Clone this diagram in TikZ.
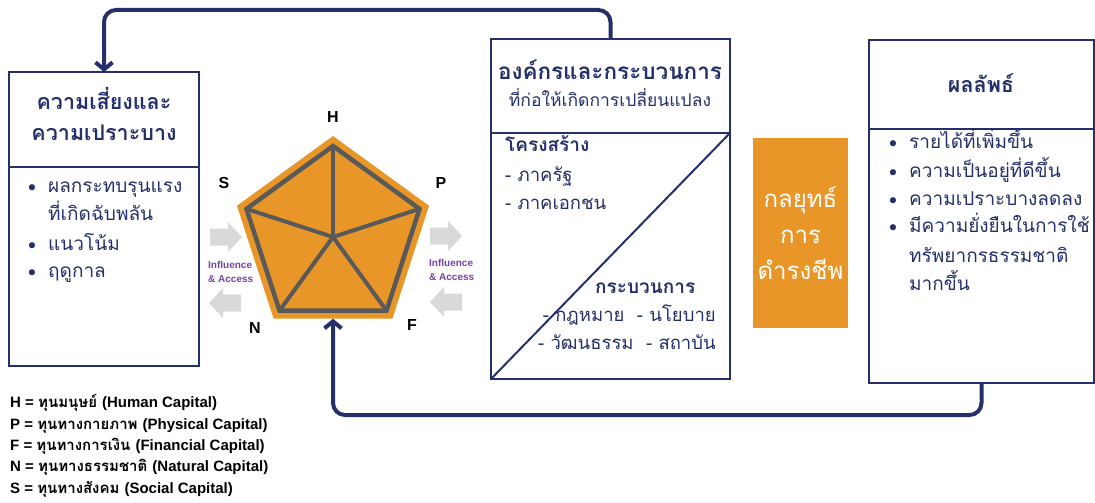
\documentclass[tikz,border=0pt]{standalone}
\usepackage{fontspec}
\usetikzlibrary{arrows.meta,shapes.geometric}
\newfontfamily\thai[Script=Thai]{Loma}
\newfontfamily\lat{Liberation Sans}
\newfontfamily\dv{DejaVu Sans}
\definecolor{navy}{HTML}{25306B}
\definecolor{orng}{HTML}{E99629}
\definecolor{pgray}{HTML}{595959}
\definecolor{lgray}{HTML}{D9D9D9}
\definecolor{purp}{HTML}{7F3FA8}
\newcommand\blockarr[3]{\fill[lgray, shift={(#1,#2)}, xscale=#3] (-16,-8.5) -- (2,-8.5) -- (2,-15) -- (16,0) -- (2,15) -- (2,8.5) -- (-16,8.5) -- cycle;}
\tikzset{
  box/.style={draw=navy, line width=2pt, fill=white, inner sep=0pt, outer sep=0pt},
  divline/.style={draw=navy, line width=2pt},
  flow/.style={draw=navy, line width=4pt, rounded corners=12pt, -{Straight Barb[length=7pt,width=17pt]}},
  ttl/.style={text=navy, font=\thai\bfseries\fontsize{21.5}{25}\selectfont, anchor=mid},
  item/.style={text=navy, font=\thai\fontsize{19}{23}\selectfont, anchor=mid west, inner sep=0pt},
  mitem/.style={text=navy, font=\thai\fontsize{18.5}{22}\selectfont, anchor=mid west, inner sep=0pt},
  bitem/.style={text=navy, font=\thai\bfseries\fontsize{19}{23}\selectfont, anchor=mid west, inner sep=0pt},
  bdot/.style={text=navy, font=\dv\fontsize{21}{24}\selectfont, anchor=center, inner sep=0pt},
  caplab/.style={font=\lat\bfseries\fontsize{16}{19}\selectfont, anchor=mid},
  infl/.style={text=purp, font=\lat\bfseries\fontsize{10}{13.5}\selectfont, align=left, anchor=west, inner sep=0pt},
  leg/.style={font=\bfseries\fontsize{15}{18}\selectfont, anchor=mid west, inner sep=0pt},
}
\begin{document}
\begin{tikzpicture}[x=1pt,y=-1pt]
\useasboundingbox (0,0) rectangle (1095,503);
\fill[white] (0,0) rectangle (1095,503);

% boxes
\node[box, minimum width=190pt, minimum height=294pt] (risk) at (104,219) {};
\draw[divline] (risk.west |- 0,167) -- (risk.east |- 0,167);
\node[box, minimum width=239pt, minimum height=340pt] (org) at (610.5,209) {};
\draw[divline] (org.west |- 0,133) -- (org.east |- 0,133);
\draw[divline] (org.south west) -- (org.east |- 0,133);
\node[box, minimum width=225pt, minimum height=343pt] (out) at (981.5,211.5) {};
\draw[divline] (out.west |- 0,129) -- (out.east |- 0,129);
\node[fill=orng, inner sep=0pt, minimum width=95pt, minimum height=190pt, text=white, align=center,
      font=\thai\fontsize{24}{36}\selectfont] (strat) at (800.5,233) {กลยุทธ์\\การ\\ดำรงชีพ};

% pentagon
\node[regular polygon, regular polygon sides=5, minimum size=202pt, fill=orng, inner sep=0pt, outer sep=0pt] (pento) at (333,237) {};
\node[regular polygon, regular polygon sides=5, minimum size=182pt, draw=pgray, line width=4.5pt, inner sep=0pt, outer sep=0pt] (pent) at (333,237) {};
\foreach \i in {1,...,5} \draw[pgray, line width=4pt] (pent.center) -- (pent.corner \i);
\node[caplab] (lH) at (333,120) {H};
\node[caplab] (lS) at (224,186) {S};
\node[caplab] (lP) at (441,186) {P};
\node[caplab] (lN) at (255,331) {N};
\node[caplab] (lF) at (412,328) {F};

% block arrows
\blockarr{226}{237}{1}
\blockarr{225}{303}{-1}
\blockarr{446}{236}{1}
\blockarr{446}{302}{-1}
\node[infl] (inL) at (208,272) {Influence\\\& Access};
\node[infl] (inR) at (429,270) {Influence\\\& Access};

% flows
\draw[flow] (org.north) -- ++(0,-29) -| (risk.north);
\draw[flow] (out.south) -- ++(0,32) -| (pento.south);

% left box text
\node[ttl] (rt1) at (104,107) {ความเสี่ยงและ};
\node[ttl] (rt2) at (104,138) {ความเปราะบาง};
\node[bdot] (rb1) at (32,190) {•};
\node[item] (ri1) at (48,190) {ผลกระทบรุนแรง};
\node[item] (ri1b) at (48,218) {ที่เกิดฉับพลัน};
\node[bdot] (rb2) at (32,248) {•};
\node[item] (ri2) at (48,248) {แนวโน้ม};
\node[bdot] (rb3) at (32,275) {•};
\node[item] (ri3) at (48,275) {ฤดูกาล};

% middle box text
\node[ttl, font=\thai\bfseries\fontsize{22.5}{26}\selectfont] (ot1) at (610,77) {องค์กรและกระบวนการ};
\node[text=navy, font=\thai\fontsize{17.5}{20}\selectfont, anchor=mid] (ot2) at (610,104) {ที่ก่อให้เกิดการเปลี่ยนแปลง};
\node[bitem] (os) at (505,149) {โครงสร้าง};
\node[mitem] (os1) at (505,179) {- ภาครัฐ};
\node[mitem] (os2) at (505,207) {- ภาคเอกชน};
\node[bitem] (op) at (595,291) {กระบวนการ};
\node[mitem, anchor=mid east] (op1) at (716,319) {- กฎหมาย\ \ - นโยบาย};
\node[mitem, anchor=mid east] (op2) at (716,347) {- วัฒนธรรม\ \ - สถาบัน};

% right box text
\node[ttl] (ut) at (981,90) {ผลลัพธ์};
\node[bdot] (ub1) at (893,146) {•};
\node[item] (ui1) at (909,146) {รายได้ที่เพิ่มขึ้น};
\node[bdot] (ub2) at (893,175) {•};
\node[item] (ui2) at (909,175) {ความเป็นอยู่ที่ดีขึ้น};
\node[bdot] (ub3) at (893,203) {•};
\node[item] (ui3) at (909,203) {ความเปราะบางลดลง};
\node[bdot] (ub4) at (893,230) {•};
\node[item] (ui4) at (909,230) {มีความยั่งยืนในการใช้};
\node[item] (ui4b) at (909,260) {ทรัพยากรธรรมชาติ};
\node[item] (ui4c) at (909,288) {มากขึ้น};

% legend
\node[leg] (g1) at (10,405) {\lat H = \thai ทุนมนุษย์ \lat(Human Capital)};
\node[leg] (g2) at (10,427) {\lat P = \thai ทุนทางกายภาพ \lat(Physical Capital)};
\node[leg] (g3) at (10,448) {\lat F = \thai ทุนทางการเงิน \lat(Financial Capital)};
\node[leg] (g4) at (10,469) {\lat N = \thai ทุนทางธรรมชาติ \lat(Natural Capital)};
\node[leg] (g5) at (10,491) {\lat S = \thai ทุนทางสังคม \lat(Social Capital)};
\end{tikzpicture}
\end{document}
